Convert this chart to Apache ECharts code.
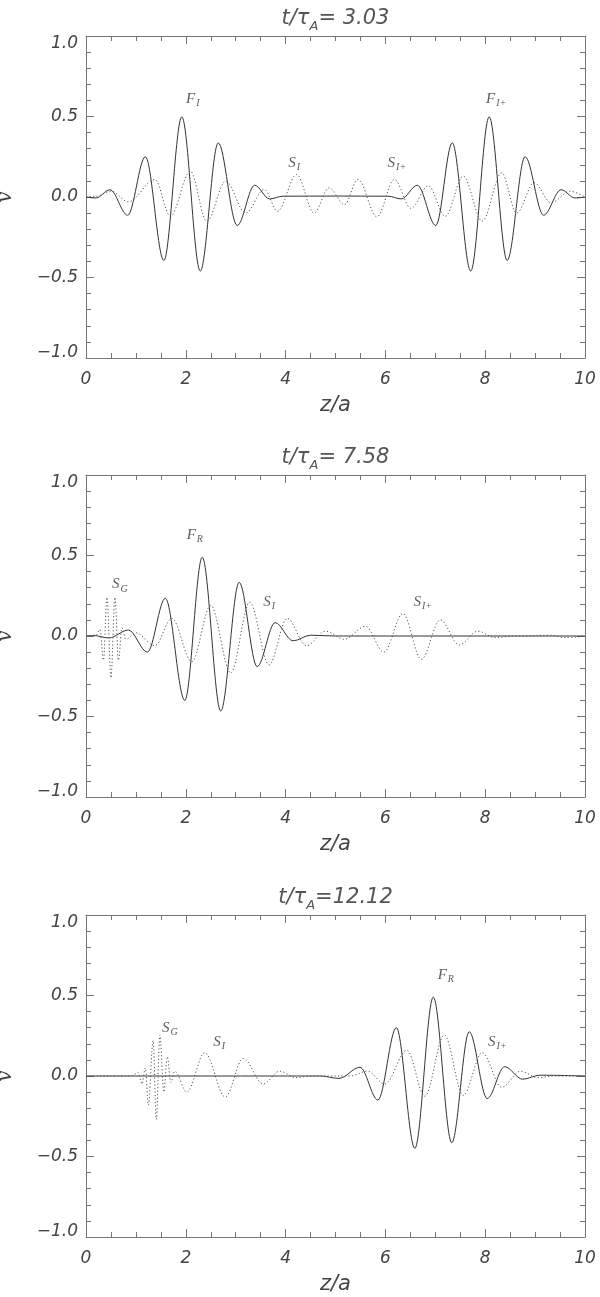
<!DOCTYPE html>
<html><head><meta charset="utf-8">
<script src="https://cdn.jsdelivr.net/npm/echarts@6/dist/echarts.min.js"></script>
<style>html,body{margin:0;padding:0;background:#fff}#c{width:600px;height:1297px}</style>
</head><body><div id="c"></div>
<script>
// ---- data ----
const titleValues = ['= 3.03', '= 7.58', '=12.12'];
const xTickValues = [0, 2, 4, 6, 8, 10];
const yTickValues = [-1.0, -0.5, 0.0, 0.5, 1.0];

// panel 1 (t/tA = 3.03): fast (solid) and slow (dotted) velocity
const fast1 = [[0,0],[0.2,-0.006],[0.48,0.045],[0.835,-0.113],[1.19,0.25],[1.56,-0.394],[1.92,0.498],[2.29,-0.46],[2.65,0.336],[3.03,-0.177],[3.38,0.073],[3.68,-0.012],[3.95,0.005],[5.0,0.006],[6.05,0.005],[6.32,-0.012],[6.64,0.073],[7.01,-0.177],[7.34,0.336],[7.71,-0.46],[8.08,0.498],[8.44,-0.394],[8.80,0.25],[9.17,-0.113],[9.52,0.045],[9.8,-0.006],[10,0]];
const slow1 = [[0,0],[0.2,0.005],[0.5,0.036],[0.85,-0.03],[1.38,0.109],[1.69,-0.119],[2.09,0.16],[2.42,-0.15],[2.80,0.098],[3.2,-0.10],[3.57,0.047],[3.84,-0.088],[4.22,0.14],[4.57,-0.10],[4.87,0.057],[5.18,-0.047],[5.45,0.109],[5.83,-0.123],[6.18,0.109],[6.51,-0.07],[6.86,0.07],[7.2,-0.12],[7.56,0.13],[7.94,-0.15],[8.33,0.15],[8.63,-0.10],[8.98,0.088],[9.32,-0.036],[9.7,0.036],[10,0]];

// panel 2 (t/tA = 7.58)
const fast2 = [[0,0],[0.15,0.003],[0.46,-0.012],[0.85,0.037],[1.23,-0.10],[1.59,0.234],[1.98,-0.40],[2.33,0.489],[2.70,-0.466],[3.07,0.333],[3.43,-0.19],[3.79,0.083],[4.15,-0.03],[4.5,0.005],[5.0,0],[10,0]];
const slow2 = [[0,0],[0.2,0.005],[0.28,0.04],[0.35,-0.15],[0.42,0.24],[0.5,-0.26],[0.58,0.24],[0.65,-0.15],[0.72,0.05],[0.8,-0.02],[1.0,0.02],[1.38,-0.06],[1.72,0.11],[2.12,-0.16],[2.5,0.19],[2.9,-0.23],[3.28,0.21],[3.67,-0.18],[4.03,0.11],[4.42,-0.06],[4.8,0.03],[5.18,-0.02],[5.6,0.06],[5.97,-0.10],[6.35,0.14],[6.72,-0.145],[7.1,0.10],[7.48,-0.056],[7.85,0.03],[8.2,-0.01],[8.6,0],[9.3,0.005],[9.6,-0.01],[10,0]];

// panel 3 (t/tA = 12.12)
const fast3 = [[0,0],[4.7,0],[5.07,-0.015],[5.49,0.054],[5.85,-0.149],[6.22,0.30],[6.59,-0.45],[6.96,0.49],[7.33,-0.414],[7.68,0.275],[8.04,-0.14],[8.39,0.058],[8.75,-0.02],[9.1,0.005],[10,0]];
const slow3 = [[0,0],[0.9,0],[1.05,0.02],[1.12,-0.05],[1.19,0.05],[1.25,-0.18],[1.345,0.22],[1.41,-0.27],[1.48,0.255],[1.56,-0.10],[1.63,0.12],[1.70,-0.04],[1.78,0.03],[2.02,-0.10],[2.38,0.145],[2.79,-0.13],[3.15,0.11],[3.55,-0.05],[3.88,0.03],[4.2,-0.01],[4.5,0],[5.3,0],[5.64,0.03],[5.99,-0.05],[6.43,0.16],[6.79,-0.125],[7.18,0.255],[7.56,-0.12],[7.94,0.145],[8.33,-0.07],[8.71,0.03],[9.05,-0.01],[9.4,0],[10,0]];

// annotations: [x, y, letter, subscript]
const notes1 = [[2.14,0.61,'F','I'],[4.17,0.21,'S','I'],[6.23,0.21,'S','I+'],[8.22,0.61,'F','I+']];
const notes2 = [[0.68,0.32,'S','G'],[2.18,0.63,'F','R'],[3.67,0.21,'S','I'],[6.75,0.21,'S','I+']];
const notes3 = [[1.68,0.30,'S','G'],[2.67,0.21,'S','I'],[7.21,0.63,'F','R'],[8.24,0.21,'S','I+']];

const fastSeries = [fast1, fast2, fast3];
const slowSeries = [slow1, slow2, slow3];
const noteSeries = [notes1, notes2, notes3];

// ---- layout / style ----
const tops = [36, 475, 915];
const GL = 86, GW = 499, GH = 322;
const axisColor = '#777';
const txtColor = '#444';
const fontFam = 'DejaVu Sans';

const chart = echarts.init(document.getElementById('c'), null, {renderer: 'canvas'});

const grid = tops.map(t => ({left: GL, width: GW, top: t, height: GH, outerBoundsMode: 'none', containLabel: false}));

const lineAxis = {show: true, onZero: false, lineStyle: {color: axisColor, width: 1}};
const tickStyle = {lineStyle: {color: axisColor, width: 1}};

const xAxis = [], yAxis = [];
tops.forEach((t, i) => {
  const xBase = {
    type: 'value', gridIndex: i, min: xTickValues[0], max: xTickValues[xTickValues.length-1], interval: 2,
    axisLine: lineAxis, splitLine: {show: false},
    axisTick: Object.assign({show: true, inside: true, length: 8}, tickStyle),
    minorTick: Object.assign({show: true, splitNumber: 4, length: 5}, tickStyle),
    minorSplitLine: {show: false}
  };
  xAxis.push(Object.assign({}, xBase, {
    position: 'bottom',
    name: 'z/a', nameLocation: 'middle', nameGap: 37,
    nameTextStyle: {fontFamily: fontFam, fontStyle: 'italic', fontSize: 21, color: txtColor},
    axisLabel: {show: true, margin: 13, fontFamily: fontFam, fontStyle: 'italic', fontSize: 17, color: txtColor,
      showMinLabel: true, showMaxLabel: true, hideOverlap: false}
  }));
  xAxis.push(Object.assign({}, xBase, {position: 'top', axisLabel: {show: false}}));

  const yBase = {
    type: 'value', gridIndex: i, min: yTickValues[0], max: yTickValues[yTickValues.length-1], interval: 0.5,
    axisLine: lineAxis, splitLine: {show: false},
    axisTick: Object.assign({show: true, inside: true, length: 8}, tickStyle),
    minorTick: Object.assign({show: true, splitNumber: 5, length: 5}, tickStyle),
    minorSplitLine: {show: false}
  };
  const lblBase = {fontFamily: fontFam, fontStyle: 'italic', fontSize: 17, color: txtColor};
  yAxis.push(Object.assign({}, yBase, {
    position: 'left',
    name: 'v', nameLocation: 'middle', nameGap: 70, nameRotate: 90,
    nameTextStyle: {fontFamily: 'DejaVu Serif', fontStyle: 'italic', fontSize: 20, color: txtColor},
    axisLabel: {show: true, margin: 8, showMinLabel: true, showMaxLabel: true, hideOverlap: false,
      formatter: v => {
        const s = (v < 0 ? '\u2212' : '') + Math.abs(v).toFixed(1);
        if (v === 1) return '{t|' + s + '}';
        if (v === -1) return '{b|' + s + '}';
        return '{r|' + s + '}';
      },
      rich: {
        r: Object.assign({}, lblBase),
        t: Object.assign({padding: [16, 0, 0, 0]}, lblBase),
        b: Object.assign({padding: [0, 0, 11, 0]}, lblBase)
      }
    }
  }));
  yAxis.push(Object.assign({}, yBase, {position: 'right', axisLabel: {show: false}}));
});

const series = [];
tops.forEach((t, i) => {
  series.push({
    type: 'line', xAxisIndex: 2*i, yAxisIndex: 2*i, data: fastSeries[i],
    showSymbol: false, symbol: 'none', smooth: 0.34, smoothMonotone: 'x',
    lineStyle: {color: '#333', width: 1}, silent: true, animation: false
  });
  series.push({
    type: 'line', xAxisIndex: 2*i, yAxisIndex: 2*i, data: slowSeries[i],
    showSymbol: false, symbol: 'none', smooth: 0.34, smoothMonotone: 'x',
    lineStyle: {color: '#555', width: 1, type: [1.2, 2.3]}, silent: true, animation: false
  });
  series.push({
    type: 'scatter', xAxisIndex: 2*i, yAxisIndex: 2*i,
    data: noteSeries[i], symbolSize: 1, itemStyle: {color: 'rgba(0,0,0,0)'},
    silent: true, animation: false,
    label: {
      show: true, position: 'inside',
      formatter: p => '{m|' + p.value[2] + '}{s|' + p.value[3] + '}',
      rich: {
        m: {fontFamily: 'Liberation Serif', fontStyle: 'italic', fontSize: 15, color: '#333'},
        s: {fontFamily: 'Liberation Serif', fontStyle: 'italic', fontSize: 10, color: '#333', padding: [9, 0, 0, 1]}
      }
    }
  });
});

const graphic = tops.map((t, i) => ({
  type: 'text', x: GL + GW / 2, y: t - 17, silent: true,
  style: {
    text: '{n|t/\u03C4}{s|A}{n|' + titleValues[i] + '}',
    align: 'center', verticalAlign: 'middle', fill: '#555',
    rich: {
      n: {fontFamily: fontFam, fontSize: 21, fill: '#555', fontStyle: 'italic'},
      s: {fontFamily: fontFam, fontSize: 13, fill: '#555', fontStyle: 'italic', padding: [16, 0, 0, 0]}
    }
  }
}));

chart.setOption({
  animation: false,
  backgroundColor: '#fff',
  grid, xAxis, yAxis, series, graphic
});
</script>
</body></html>
